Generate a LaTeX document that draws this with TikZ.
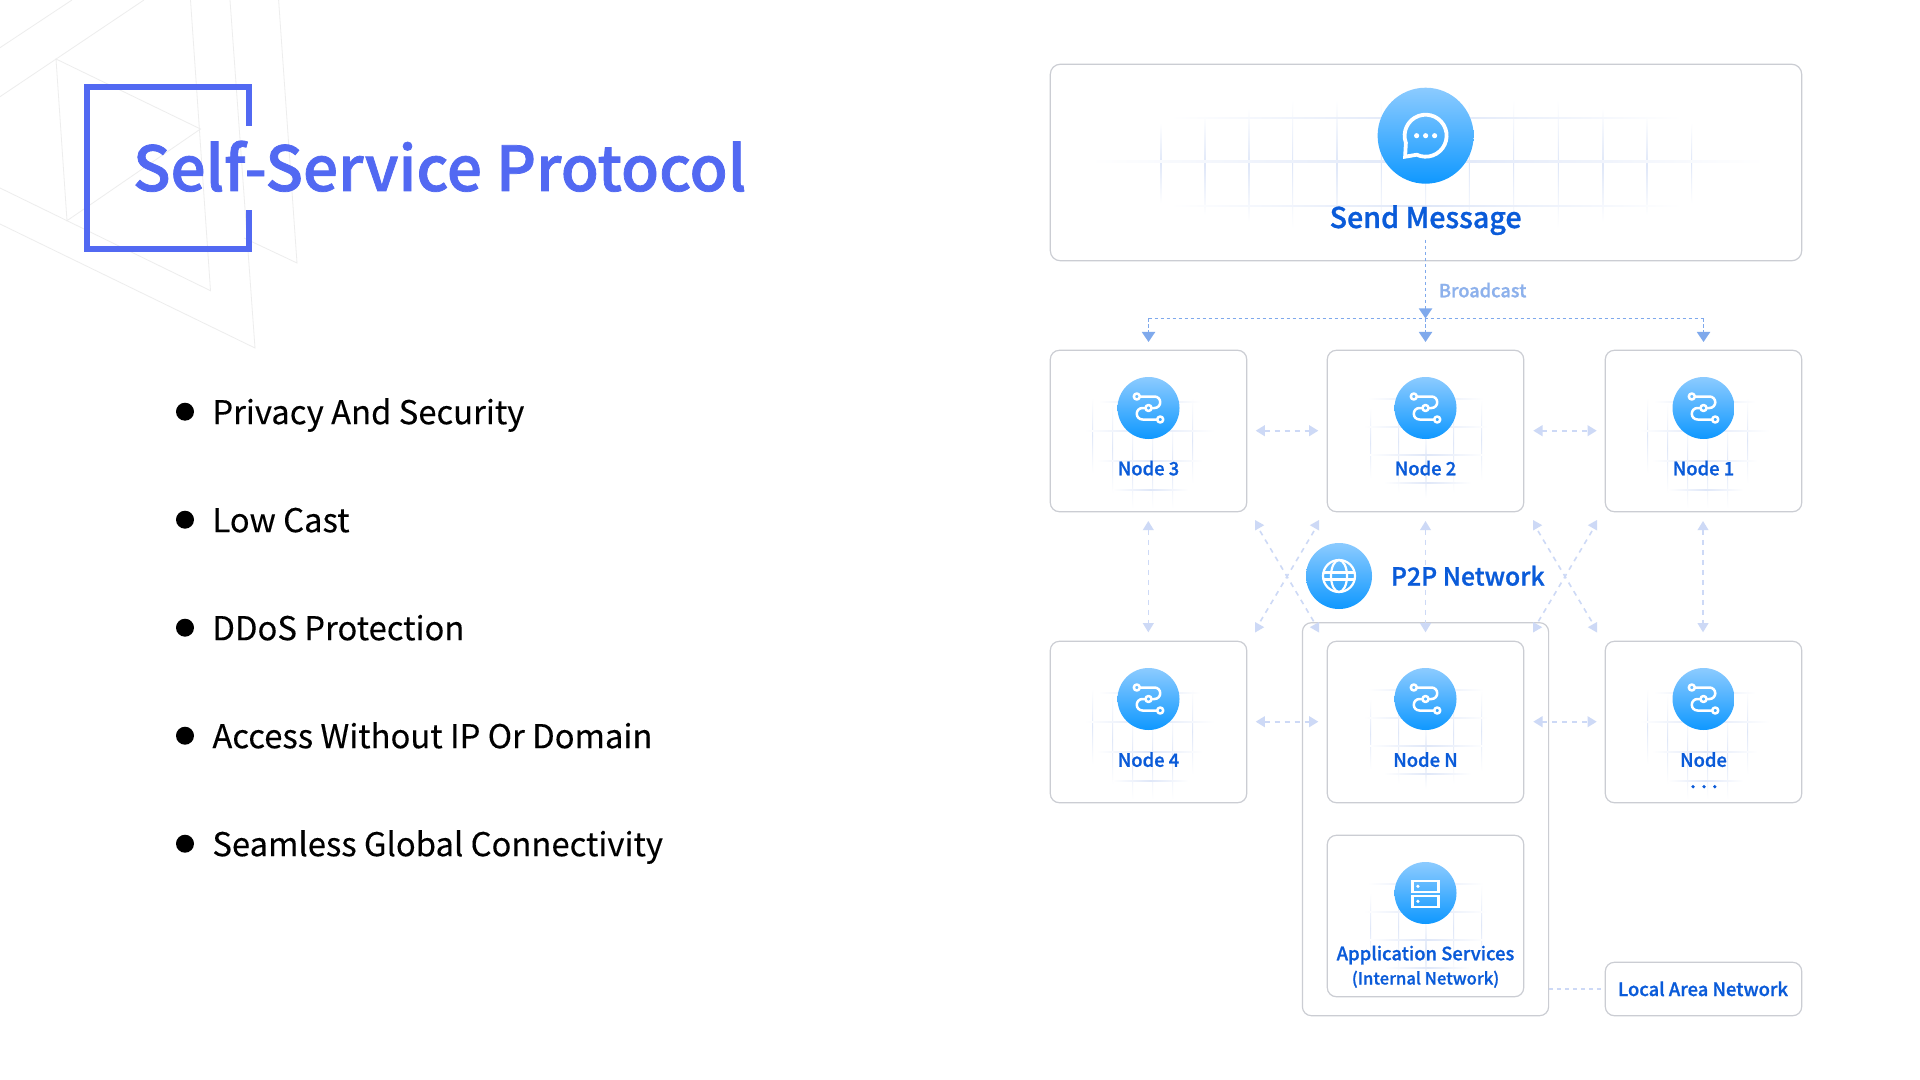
\documentclass[tikz,border=0pt]{standalone}
\usepackage{fontspec}
\setmainfont{Noto Sans CJK SC}[FakeBold=0.2]
\newfontfamily\medf{Noto Sans CJK SC Medium}[FakeBold=1.0]
\newfontfamily\titlef{Noto Sans CJK SC Medium}[FakeBold=1.2]
\usetikzlibrary{arrows.meta}
\definecolor{titleblue}{HTML}{5269F2}
\definecolor{labelblue}{HTML}{0A5BD9}
\definecolor{bcastblue}{HTML}{7FA9EC}
\definecolor{bcastlabel}{HTML}{8DB1EC}
\definecolor{faintblue}{HTML}{CDD9F6}
\definecolor{boxline}{HTML}{CBCDD3}
\definecolor{gridc}{HTML}{DFE7F8}
\definecolor{bgline}{HTML}{EDEDED}
\definecolor{disctop}{HTML}{8CCBFF}
\definecolor{discbot}{HTML}{0F98FF}
\newcommand{\fpx}[1]{\fontsize{#1}{#1}\selectfont}
\newcommand{\gridv}[3]{\shade[top color=white,bottom color=white,middle color=gridc] (#1-0.5,#2) rectangle (#1+0.5,#3);}
\newcommand{\gridh}[3]{\shade[left color=white,right color=white,middle color=gridc] (#2,#1-0.5) rectangle (#3,#1+0.5);}
\tikzset{
  x=0.5pt,y=-0.5pt,
  boxn/.style={draw=boxline,line width=0.6pt,fill=white,rounded corners=4.5pt,inner sep=0pt},
  smallbox/.style={boxn,minimum width=98.2pt,minimum height=80.7pt},
  disc/.style={circle,inner sep=0pt,shading=axis,top color=disctop,bottom color=discbot,shading angle=0},
  smalldisc/.style={disc,minimum size=31pt},
  nodelabel/.style={anchor=base,text=labelblue,font=\fpx{9.2}\medf,inner sep=0pt},
  bullettext/.style={anchor=base west,text=black,font=\fpx{16.4},inner sep=0pt},
  bulletdot/.style={circle,fill=black,minimum size=9pt,inner sep=0pt},
  bgl/.style={draw=bgline,line width=0.4pt},
  bcast/.style={draw=bcastblue,line width=0.95pt,dash pattern=on 1.6pt off 1.4pt},
  bcasttip/.style={-{Triangle[length=5pt,width=6.5pt,fill=bcastblue,color=bcastblue,sep=0pt]}},
  peer/.style={draw=faintblue,line width=0.8pt,dash pattern=on 2.5pt off 2.5pt,
     {Triangle[length=4.6pt,width=5.4pt,color=faintblue]}-{Triangle[length=4.6pt,width=5.4pt,color=faintblue]}},
  peerline/.style={draw=faintblue,line width=0.8pt,dash pattern=on 2.5pt off 2.5pt},
  iconline/.style={draw=white,line width=1.25pt,line cap=round,line join=round},
  routeicon/.pic={
    \draw[iconline] (-8.7,-11.5) -- (6,-11.5) arc[start angle=-90,end angle=90,radius=5.75] -- (3,0);
    \draw[iconline] (-3,0) -- (-6,0) arc[start angle=-90,end angle=-270,radius=5.75] -- (8.7,11.5);
    \draw[iconline] (-11.7,-11.5) circle (3);
    \draw[iconline] (0,0) circle (3);
    \draw[iconline] (11.7,11.5) circle (3);
  },
  servericon/.pic={
    \draw[iconline,line width=1.1pt,line join=miter] (-13,-11.7) rectangle (13,-1.3);
    \draw[iconline,line width=1.1pt,line join=miter] (-13,3.3) rectangle (13,13.7);
    \fill[white] (-7.6,-6.7) circle (1.8);
    \fill[white] (-7.6,8.3) circle (1.8);
  },
  globeicon/.pic={
    \draw[iconline,line width=1.1pt] (0,0) circle (16);
    \draw[iconline,line width=1.1pt] (0,0) ellipse (8 and 16);
    \draw[iconline,line width=1.1pt] (-15,-3.5) -- (15,-3.5);
    \draw[iconline,line width=1.1pt] (-15,3.5) -- (15,3.5);
  },
  chaticon/.pic={
    \draw[draw=white,line width=1.9pt,line join=miter]
      (160:21) arc[start angle=160,end angle=475,radius=21] -- (-20.5,21) -- cycle;
    \fill[white] (-9,0) circle (2.6) (0,0) circle (2.6) (9,0) circle (2.6);
  },
  gridA/.pic={
    \gridv{-56}{-10}{65}\gridv{-36}{-5}{85}\gridv{-16}{15}{100}\gridv{4}{15}{100}\gridv{24}{15}{100}\gridv{44}{-10}{75}
    \gridh{-6.5}{-50}{52}\gridh{23}{-64}{66}\gridh{52.5}{-52}{54}\gridh{82}{-36}{40}
  },
  gridB/.pic={
    \gridv{-55}{0}{70}\gridv{-27}{-18}{85}\gridv{0.5}{25}{90}\gridv{28}{-15}{85}\gridv{56}{-8}{72}
    \gridh{-8.7}{-58}{58}\gridh{19.3}{-62}{62}\gridh{47.3}{-58}{60}\gridh{75.3}{-42}{46}
  },
}
\newcommand{\trR}[2]{\fill[faintblue] (#1,#2) -- (#1,#2+10.5) -- (#1+9.2,#2+5.2) -- cycle;}
\newcommand{\trL}[2]{\fill[faintblue] (#1,#2) -- (#1,#2+10.5) -- (#1-9.2,#2+5.2) -- cycle;}
\begin{document}
\begin{tikzpicture}
\useasboundingbox (0,0) rectangle (1920,1080);
\fill[white] (0,0) rectangle (1920,1080);
% faint background lines
\draw[bgl] (0,47.7) -- (72,0);
\draw[bgl] (0,96.7) -- (144,0);
\draw[bgl] (56,59) -- (200.5,129) -- (67,220.7) -- cycle;
\draw[bgl] (190.5,0) -- (210.5,290.7) -- (0,188);
\draw[bgl] (230,0) -- (255,348) -- (0,224);
\draw[bgl] (278.6,0) -- (297,263) -- (244,238);
% title bracket and title
\draw[titleblue,line width=3pt,line join=miter] (249,126) -- (249,87) -- (87,87) -- (87,248.7) -- (249,248.7) -- (249,210);
\node[anchor=base west,inner sep=0pt,text=titleblue,font=\fpx{31}\titlef] (title) at (132.5,191) {Self-Service Protocol};
% bullets
\foreach \yy/\nm/\tx in {424.2/b1/Privacy And Security,532.2/b2/Low Cast,640.2/b3/DDoS Protection,748.2/b4/Access Without IP Or Domain,856.2/b5/Seamless Global Connectivity}{
  \node[bulletdot] (\nm d) at (185,\yy-12.5) {};
  \node[bullettext] (\nm) at (212,\yy) {\tx};
}
% boxes
\node[boxn,rounded corners=5pt,minimum width=751.4*0.5pt,minimum height=196.5*0.5pt] (msg) at (1426,162.5) {};
\node[smallbox] (n3) at (1148.5,431) {};
\node[smallbox] (n2) at (1425.5,431) {};
\node[smallbox] (n1) at (1703.5,431) {};
\node[smallbox] (n4) at (1148.5,722) {};
\node[boxn,minimum width=123.1pt,minimum height=196.5pt] (lan) at (1425.5,819.2) {};
\node[smallbox] (nn) at (1425.5,722) {};
\node[smallbox] (nx) at (1703.5,722) {};
\node[smallbox] (app) at (1425.5,916) {};
\node[boxn,minimum width=98.2pt,minimum height=26.7pt] (lanl) at (1703.5,989) {};
% grids
\gridv{1160.9}{123}{203}\gridv{1205.2}{115}{215}\gridv{1249}{108}{222}\gridv{1292.7}{100}{228}\gridv{1337}{100}{228}\gridv{1381.3}{100}{228}\gridv{1425.6}{100}{228}\gridv{1469.4}{100}{228}\gridv{1513.6}{100}{228}\gridv{1558.4}{100}{228}\gridv{1603.2}{108}{222}\gridv{1647}{115}{215}\gridv{1691.7}{123}{203}
\gridh{117.7}{1170}{1682}\gridh{161.2}{1090}{1765}\gridh{162.2}{1090}{1765}\gridh{205.7}{1170}{1682}
\pic at (1148.5,408) {gridA};
\pic at (1703.5,408) {gridA};
\pic at (1148.5,699) {gridA};
\pic at (1703.5,699) {gridA};
\pic at (1425.5,408) {gridB};
\pic at (1425.5,699) {gridB};
\pic at (1425.5,893) {gridB};
% broadcast connectors
\coordinate (hub) at (1425.5,318.5);
\coordinate (msgout) at (1425.5,240);
\coordinate (hl) at (1148.5,318.5);
\coordinate (hr) at (1703.5,318.5);
\coordinate (t3) at (1148.5,342);
\coordinate (t2) at (1425.5,342);
\coordinate (t1) at (1703.5,342);
\draw[bcast,bcasttip] (msgout) -- (hub);
\draw[bcast] (hl) -- (hr);
\draw[bcast,bcasttip] (hl) -- (t3);
\draw[bcast,bcasttip] (hub) -- (t2);
\draw[bcast,bcasttip] (hr) -- (t1);
\node[anchor=base west,inner sep=0pt,text=bcastlabel,font=\fpx{9.1}\medf] (bl) at (1438.5,297.3) {Broadcast};
% peer connectors
\foreach \nm/\xa/\xb/\yy in {p1/1255.7/1318.3/430.7,p2/1533.3/1596.7/430.7,p3/1255.7/1318.3/721.7,p4/1533.3/1596.7/721.7}{
  \coordinate (\nm a) at (\xa,\yy);
  \coordinate (\nm b) at (\xb,\yy);
  \draw[peer] (\nm a) -- (\nm b);
}
\foreach \nm/\xx in {v1/1148.3,v2/1425.5,v3/1703}{
  \coordinate (\nm a) at (\xx,521);
  \coordinate (\nm b) at (\xx,632.3);
  \draw[peer] (\nm a) -- (\nm b);
}
\foreach \nm/\xa/\xb in {x1/1255/1319,x2/1533/1597}{
  \coordinate (\nm tl) at (\xa+5,531);
  \coordinate (\nm tr) at (\xb-5,531);
  \coordinate (\nm bl) at (\xa+5,622);
  \coordinate (\nm br) at (\xb-5,622);
  \draw[peerline] (\nm tl) -- (\nm br);
  \draw[peerline] (\nm tr) -- (\nm bl);
  \trR{\xa}{520}\trL{\xb}{520}\trR{\xa}{622}\trL{\xb}{622}
}
\draw[peerline,dash pattern=on 2pt off 2pt] (lan.east |- lanl) -- (lanl.west);
% discs and icons
\node[disc,minimum size=48pt] (dmsg) at (1425.6,135.7) {};
\pic at (dmsg) {chaticon};
\foreach \nm/\xx/\yy in {d3/1148.5/408,d2/1425.5/408,d1/1703.5/408,d4/1148.5/699,dn/1425.5/699,dx/1703.5/699}{
  \node[smalldisc] (\nm) at (\xx,\yy) {};
  \pic at (\nm) {routeicon};
}
\node[smalldisc] (dapp) at (1425.5,893) {};
\pic at (dapp) {servericon};
\node[disc,minimum size=33pt] (dp2p) at (1339,576) {};
\pic at (dp2p) {globeicon};
% labels
\node[nodelabel,font=\fpx{14.3}\medf] (lmsg) at (1425.6,228) {Send Message};
\node[nodelabel] (l3) at (1148.5,475.3) {Node 3};
\node[nodelabel] (l2) at (1425.5,475.3) {Node 2};
\node[nodelabel] (l1) at (1703.5,475.3) {Node 1};
\node[nodelabel] (l4) at (1148.5,766.8) {Node 4};
\node[nodelabel] (ln) at (1425.5,766.8) {Node N};
\node[nodelabel] (lx) at (1703.5,766.8) {Node};
\fill[labelblue] (1693,786.7) circle (1.8) (1704,786.7) circle (1.8) (1714.8,786.7) circle (1.8);
\node[nodelabel] (la) at (1425.5,960.3) {Application Services};
\node[nodelabel,font=\fpx{8.35}\medf] (li) at (1425.5,984.5) {(Internal Network)};
\node[nodelabel] (ll) at (1703,996) {Local Area Network};
\node[nodelabel,anchor=base west,font=\fpx{12.4}\medf] (lp) at (1390.5,585.5) {P2P Network};
\end{tikzpicture}
\end{document}
